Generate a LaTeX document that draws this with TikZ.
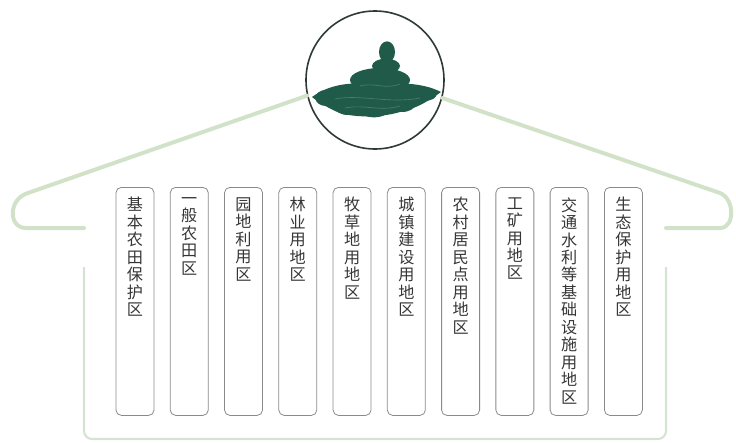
\documentclass[tikz,border=0pt]{standalone}
\usepackage{fontspec}
\setmainfont{Noto Sans CJK SC}
\definecolor{roofGreen}{HTML}{D2E2C8}
\definecolor{wallGreen}{HTML}{D5E4D2}
\definecolor{zoneEdge}{HTML}{8A8A8A}
\definecolor{zoneInk}{HTML}{363636}
\definecolor{emblemRing}{HTML}{2E3A35}
\definecolor{moundGreen}{HTML}{1F5B48}
\usetikzlibrary{positioning}

\begin{document}
\begin{tikzpicture}[
    x=0.75pt, y=-0.75pt,
    node distance=11.6pt,
    zone/.style={
      draw=zoneEdge,
      rounded corners=4pt,
      line width=0.6pt,
      minimum width=28.5pt,
      minimum height=171pt,
      inner sep=0pt,
    },
    zonetext/.style={
      align=center,
      inner sep=0pt,
      text=zoneInk,
      font=\fontsize{12.1}{13.1}\selectfont,
    },
    emblem/.style={
      circle,
      draw=emblemRing,
      fill=white,
      line width=1.2pt,
      minimum size=103.5pt,
      inner sep=0pt,
    },
    roof/.style={roofGreen, line width=3pt, line cap=round, line join=round},
    wall/.style={wallGreen, line width=1.6pt, rounded corners=6pt},
  ]
    \useasboundingbox (0,0) rectangle (736,443);

    % house outline
    \draw[wall] (84,267) -- (84,439) -- (666,439) -- (666,267);
    \node[emblem] (emblem) at (375,80) {};
    \draw[roof] (84,228) -- (26,228) .. controls (8,228) and (8,199) .. (28,193) -- (emblem.193);
    \draw[roof] (emblem.345) -- (720,193) .. controls (735,199) and (735,228) .. (720,228) -- (666,228);

    % the mound inside the circle
    \fill[moundGreen] (312,97) .. controls (330,84) and (350,82) .. (376,84)
      .. controls (405,82) and (425,84) .. (441,92)
      .. controls (430,100) and (418,108) .. (400,112)
      .. controls (380,118) and (350,118) .. (335,111)
      .. controls (325,106) and (318,102) .. cycle;
    \fill[moundGreen] (326,98) ellipse [x radius=8pt, y radius=6pt];
    \fill[moundGreen] (348,107) ellipse [x radius=10pt, y radius=6pt];
    \fill[moundGreen] (374,110) ellipse [x radius=11pt, y radius=5.5pt];
    \fill[moundGreen] (402,104) ellipse [x radius=10pt, y radius=6pt];
    \fill[moundGreen] (426,94) ellipse [x radius=8pt, y radius=5pt];
    \fill[moundGreen] (380,80) ellipse [x radius=22.5pt, y radius=9pt];
    \fill[moundGreen] (386,66) ellipse [x radius=10.5pt, y radius=5.5pt];
    \fill[moundGreen] (387,52) ellipse [x radius=6pt, y radius=8pt];
    \draw[white, opacity=0.2, line width=0.5pt]
      (335,99) .. controls (360,94) and (390,104) .. (420,98)
      (345,108) .. controls (365,104) and (380,112) .. (400,106)
      (360,86) .. controls (375,82) and (385,90) .. (400,84);

    % land-use zones
    \node[zone, anchor=north] (z1) at (135,187) {};
    \node[zone, right=of z1] (z2) {};
    \node[zone, right=of z2] (z3) {};
    \node[zone, right=of z3] (z4) {};
    \node[zone, right=of z4] (z5) {};
    \node[zone, right=of z5] (z6) {};
    \node[zone, right=of z6] (z7) {};
    \node[zone, right=of z7] (z8) {};
    \node[zone, right=of z8] (z9) {};
    \node[zone, right=of z9] (z10) {};

    \node[zonetext, below=7.6pt of z1.north] (t1) {基\\本\\农\\田\\保\\护\\区};
    \node[zonetext, below=7.6pt of z2.north] (t2) {一\\般\\农\\田\\区};
    \node[zonetext, below=7.6pt of z3.north] (t3) {园\\地\\利\\用\\区};
    \node[zonetext, below=7.6pt of z4.north] (t4) {林\\业\\用\\地\\区};
    \node[zonetext, below=7.6pt of z5.north] (t5) {牧\\草\\地\\用\\地\\区};
    \node[zonetext, below=7.6pt of z6.north] (t6) {城\\镇\\建\\设\\用\\地\\区};
    \node[zonetext, below=7.6pt of z7.north] (t7) {农\\村\\居\\民\\点\\用\\地\\区};
    \node[zonetext, below=7.6pt of z8.north] (t8) {工\\矿\\用\\地\\区};
    \node[zonetext, below=7.6pt of z9.north] (t9) {交\\通\\水\\利\\等\\基\\础\\设\\施\\用\\地\\区};
    \node[zonetext, below=7.6pt of z10.north] (t10) {生\\态\\保\\护\\用\\地\\区};
\end{tikzpicture}
\end{document}
